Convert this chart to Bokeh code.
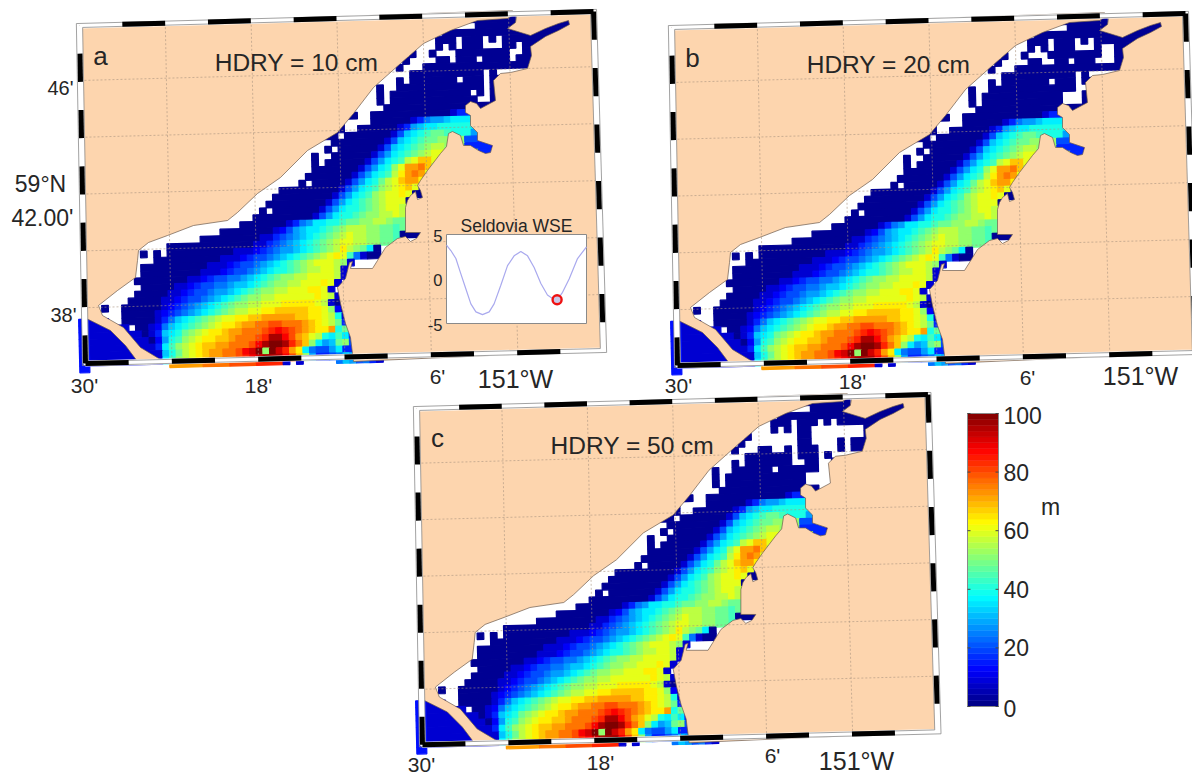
import re
import numpy as np
from bokeh.plotting import figure
from bokeh.models import Range1d
from bokeh.core.properties import value
from bokeh.embed import file_html
from bokeh.resources import INLINE

# Water depth (m), run-length coded per grid row: letter a..z = 0..100 m in 4 m steps
# (b = shallowest water, about 2 m), "_" = dry (white) cell, "." = no cell
DEPTH_ROWS = [
 "58. 7b 7. 2b", "55. 4_ 15b", "54. 20b", "53. 3b 1_ 3b 1_ 1b 1_ 9b",
 "51. 2_ 1b 1_ 1b 1_ 3b 3_ 2b 1_ 4b", "49. 1b 2_ 1b 3_ 8b 2_ 4b", "48. 1b 4_ 2b 1_ 3b 1_ 4b 1_ 3b",
 "47. 1b 3_ 17b", "46. 3_ 11b 1_ 1b 5_", "44. 3_ 1b 1_ 7b 1_ 3b 1_ 3b", "43. 1_ 1b 2_ 13b 1_ 1b",
 "42. 2_ 1b 1_ 12b 1_ 1b 1_ 2b", "41. 3_ 1b 1_ 13b 2_ 2b", "40. 5_ 18b", "39. 2b 2_ 12b 1c 4e",
 "38. 1b 4_ 6b 1c 1e 1g 2h 1i 5j", "37. 2b 2_ 6b 1c 1e 1h 1i 2j 5k 2j",
 "36. 2b 1_ 7b 1c 1f 1i 1j 1k 1l 2m 1l 3k 1h 1g", "36. 1_ 8b 1c 1f 1i 1j 1k 1l 2m 4n 2f 3e",
 "35. 1_ 1b 1_ 6b 1c 1f 1i 1j 1k 1l 1m 1n 2o 3n 4e 1d", "34. 1b 2_ 6b 1c 1f 1h 1j 1k 1l 1m 1n 1o 2p 1o 4n 3e",
 "33. 1_ 1b 1_ 6b 1c 1f 1h 1j 1k 1l 1o 1p 2r 1p 3n", "32. 2_ 7b 1c 1f 1h 1j 1k 1n 1p 2s 1t 1r 1n",
 "31. 2_ 7b 1c 1f 1h 1j 1k 1l 1o 1q 1s 1t 1s 1p 1c", "30. 2_ 1b 1_ 5b 1c 1f 1h 1j 1k 1m 1o 1p 1r 2s 1q 1d",
 "28. 1_ 9b 1c 1f 1h 1j 1k 1l 1n 1o 1p 1q 1r 1p 1c 1b", "27. 1_ 9b 1c 1f 1h 1j 1k 1l 1n 1o 2p 1q 1p 3b",
 "26. 1_ 9b 1c 1f 1h 1j 1k 1l 1m 1n 1o 3p 1b", "24. 2_ 1b 1_ 7b 1c 1f 1h 1j 2k 1l 1m 1n 1o 2p 1o",
 "23. 2_ 9b 1c 1f 1h 1j 2k 1l 1m 2n 2o 1p 1o", "21. 2_ 7b 1c 1e 1g 1h 2j 2k 1l 2m 2n 2o 1n 2m",
 "16. 4_ 8b 1c 1d 1f 1h 1i 2j 1k 1l 1m 1n 3o 2n 2m 1l 1m", "12. 5_ 9b 2c 1e 1f 1g 1h 1i 1j 1k 1l 1m 1n 1o 1p 2o 2n 2m 1l 3b",
 "9. 3_ 13b 2c 1e 1f 1g 1h 1i 1j 1k 1l 1m 1n 1o 2p 2o 2n 2m 1l 1_ 1_", "8. 1b 1_ 1b 1_ 10b 3c 1d 1e 1f 1g 2h 1i 1j 1k 1l 1m 1n 1o 1q 1o 1n 1m 1j 1b 2_",
 "8. 2_ 10b 3c 1d 1e 2f 1g 1h 1i 1j 1k 1l 1m 1n 1o 1p 1q 1p 1l 1g 1c 2b 1_", "7. 1_ 10b 3c 1d 1e 2f 1g 1h 1i 1j 1k 1l 1m 1n 1o 3p 1o 1n 1c 4_",
 "7. 1_ 9b 3c 1d 1e 2f 1g 1h 1i 1j 2k 1l 1m 1n 2o 2p 1o 1c", "6. 1_ 8b 2c 1d 1e 2f 2g 1h 1i 1j 1k 1l 1m 2n 2o 4p 1o 1c",
 "6. 2_ 5b 2c 1d 1e 2f 2g 1h 2i 1j 1k 1l 1m 2n 2o 3p 1q 1p 1c", "4. 3_ 5b 2c 1d 1e 2f 1g 2h 1i 1j 1k 1l 1m 2n 2o 3p 2q 1p 1c",
 "3. 3_ 5b 2c 1d 1e 2f 1g 1h 1i 1j 1k 1l 1m 2n 2o 6p 1q 1p 1o 1c", "2. 1b 2_ 6b 1c 1d 1e 1f 1g 1h 1i 1j 1k 1l 1m 2n 2o 3p 5q 1p 1o 1c 1b",
 "3. 2_ 5b 1c 1d 1e 1f 1g 1h 1i 1j 1k 1l 1m 1n 2o 2p 2q 5r 2q 1p 1n 1d 1b", "3c 2_ 5b 1c 1e 1g 1i 1j 1k 1l 1m 1n 1o 2p 2q 2r 5s 2r 2q 1p 1o 1k 1c",
 "6c 1_ 2b 1c 1d 1g 1i 1j 1k 1l 1m 1n 1o 1p 2q 1r 2s 2t 2u 3t 1s 1r 1q 1p 1o 1m 1e 1b", "8c 1b 1c 1e 1i 1j 1k 1m 1n 1o 1p 2q 1r 2s 2t 1t 1u 1v 1w 1v 1u 1t 1s 1r 2q 1s 1k 1m 1f",
 "9c 1b 1d 1h 1k 1l 1n 1o 1p 2q 2r 1s 2t 1t 1u 1v 2y 1w 1u 1s 1r 1p 1o 1k 1j 1l 1j 1e", "10c 1e 1j 1l 1n 1o 1p 1q 2r 2s 2t 1t 1u 1w 1y 2z 1y 1v 1t 1r 1n 1j 1h 1i 1m 1n 1f",
 "11c 1i 1k 1m 1o 1p 1q 1r 2s 2t 1u 1w 1x 1z 1n 1z 1x 1v 1s 1q 1j 1g 2f 1h 1j 1e 1e", "11c 1j 1l 1n 1o 1p 1q 1r 2s 2t 1u 1v 1w 1x 3y 1w 1u 1r 1n 1h 2e 1f 1g 1i 1h 1g 1f",
 "12. 5s 4t 4u 4v 1c 1. 1c 5. 1g 1i 1h 1f 1g 1e 1c",
]
WEST_DEPTH = [14, 14, 14, 14, 14, 14, 14, 14]   # basin west of the frame, rows 44..51

# Cells that are dry only at the larger HDRY values: (row, [columns])
EXTRA_DRY_B = [(4, [64, 65]), (5, [64, 65]), (6, [56, 63, 64, 65]), (10, [60, 61]), (11, [58, 59, 60]), (12, [58, 60])]
EXTRA_DRY_C = [(3, [56]), (4, [56, 59, 63, 64, 65, 66]), (5, [52, 53, 54, 55, 56, 59, 60, 61, 62, 63, 64, 65, 66]),
               (6, [52, 53, 54, 55, 56, 59, 60, 61, 62]), (7, [53, 54, 56, 60, 61, 62, 64]), (8, [56]),
               (9, [57, 60, 61]), (10, [53, 60, 61]), (11, [58, 59, 60, 61]), (12, [58, 59, 60, 61]), (13, [60, 61])]

# Coast outlines, panel a page coordinates
COAST_NW_X = [79,84,110,125,137,160,140,123,102,98,117,135,137,138,148,167,193,227,237,257,280,307,337,353,373,400,423,450,477,507,512,512]
COAST_NW_Y = [25,317,330,345,361,359,347,327,315,305,290,277,260,250,242,235,225,220,212,193,177,150,132,113,87,63,43,30,20,18,15,10]
COAST_SE_X = [517,515,507,517,530,545,558,568,569,558,545,530,531,527,510,500,493,495,480,476,470,465,465,470,470,477,477,492,490,485,478,470,463,460,452,448,446,440,427,420,417,420,422,417,415,410,407,405,405,420,416,410,405,397,385,377,372,350,352,349,345,337,340,345,350,353,603,593]
COAST_SE_Y = [11,22,28,31,35,28,23,20,24,30,36,46,55,68,72,73,80,100,108,103,101,105,112,115,125,132,140,145,152,153,150,145,145,135,131,133,146,153,170,180,185,190,197,199,191,195,200,207,232,232,238,241,236,238,247,260,268,268,261,262,278,287,303,323,337,361,350,11]

# Frame corners (panel a) and graticule
FRAME_X = [79, 593, 603, 85]
FRAME_Y = [25, 11, 350, 363]
LON_MIN = [24, 18, 12, 6, 0]
LAT_MIN = [46, 44, 42, 40, 38]

# Tide inset
WSE_T = [0,.031,.067,.102,.138,.174,.210,.257,.305,.340,.388,.436,.483,.531,.579,.626,.674,.721,.757,.793,.829,.876,.936,1.0]
WSE_M = [3.8,3.2,2.3,.6,-1.1,-2.8,-3.7,-4,-3.7,-2.8,-.7,1.5,2.6,3.1,2.6,1.3,-.5,-1.8,-2.2,-2.3,-1.5,0,2.3,3.6]
WSE_NOW_T, WSE_NOW_M = [.79], [-2.33]
WSE_TICKS = [5, 0, -5]

CBAR_TICKS = [0, 20, 40, 60, 80, 100]
CBAR_LEVELS = list(range(0, 100, 2))

PANELS = [("a", "HDRY = 10 cm", 0, 0, 1.0, []), ("b", "HDRY = 20 cm", 592, 2, 1.0, EXTRA_DRY_B),
          ("c", "HDRY = 50 cm", 337, 383, 0.995, EXTRA_DRY_C)]

FONT = value("Liberation Sans")
LAND = "#fdd5ae"
TXT = "#262626"


def jet(d):
    t = d / 100.0
    f = lambda k: int(255 * min(1, max(0, 1.5 - abs(4 * t - k))))
    return "#%02x%02x%02x" % (f(3), f(2), f(1))


def depth_of(ch):
    return 2 if ch == "b" else (ord(ch) - 97) * 4


def place(px, py, pan):
    dx, dy, s = pan[2], pan[3], pan[4]
    px, py = np.asarray(px, float), np.asarray(py, float)
    return 79 + (px - 79) * s + dx, 25 + (py - 25) * s + dy


def bil(fu, fv):
    xt = FRAME_X[0] + (FRAME_X[1] - FRAME_X[0]) * fu
    yt = FRAME_Y[0] + (FRAME_Y[1] - FRAME_Y[0]) * fu
    xb = FRAME_X[3] + (FRAME_X[2] - FRAME_X[3]) * fu
    yb = FRAME_Y[3] + (FRAME_Y[2] - FRAME_Y[3]) * fu
    return xt + (xb - xt) * fv, yt + (yb - yt) * fv


def cell_xy(j, i):
    c = 6.67
    u, v = 4 + j * c, 3.3 + i * c
    return 77 + u + 0.024 * v, 22 - 0.025 * u + v


p = figure(width=1192, height=775, x_range=Range1d(0, 1192), y_range=Range1d(775, 0),
           output_backend="svg", toolbar_location=None, min_border=0)
p.axis.visible = False
p.grid.visible = False
p.outline_line_color = None
p.background_fill_color = "white"


def label(x, y, s, size, align="center"):
    p.text([x], [y], text=[s], text_font=FONT, text_font_size=f"{size}px", text_color=TXT,
           text_align=align, text_baseline="middle")


for pan in PANELS:
    dry = {r: cs for r, cs in pan[5]}
    xs, ys, cols = [], [], []
    for i, row in enumerate(DEPTH_ROWS):
        cells = []
        for n, ch in re.findall(r"(\d+)(\S)", row):
            cells += [ch] * int(n)
        for c in dry.get(i, []):
            if c < len(cells) and cells[c] != ".":
                cells[c] = "_"
        h = 0.55 if i == len(DEPTH_ROWS) - 1 else 1
        j = 0
        while j < len(cells):
            k = j
            while k < len(cells) and cells[k] == cells[j]:
                k += 1
            ch = cells[j]
            if ch not in "._":
                x0, y0 = cell_xy(j, i); x1, y1 = cell_xy(k, i)
                x2, y2 = cell_xy(k, i + h); x3, y3 = cell_xy(j, i + h)
                a, b = place([x0, x1, x2, x3], [y0, y1, y2, y3], pan)
                xs.append(a.tolist()); ys.append(b.tolist()); cols.append(jet(depth_of(ch)))
            j = k
    for k, d in enumerate(WEST_DEPTH):
        i = 44 + k
        x0, y0 = cell_xy(-1.5, i); x1, y1 = cell_xy(0, i); x2, y2 = cell_xy(0, i + 1); x3, y3 = cell_xy(-1.5, i + 1)
        a, b = place([x0, x1, x2, x3], [y0, y1, y2, y3], pan)
        xs.append(a.tolist()); ys.append(b.tolist()); cols.append(jet(d))
    p.patches(xs, ys, fill_color=cols, line_color=cols, line_width=1.2)

    for cx, cy in ((COAST_NW_X, COAST_NW_Y), (COAST_SE_X, COAST_SE_Y)):
        a, b = place(cx, cy, pan)
        p.patch(a, b, fill_color=LAND, line_color="#6b5a4e", line_width=0.7)

    # graticule
    gx, gy = [], []
    for m in LON_MIN:
        a, b = bil((30 - m) * 14.3 / 514.0, np.array([0.0, 1.0]))
        a, b = place(a, b, pan); gx.append(a.tolist()); gy.append(b.tolist())
    for m in LAT_MIN:
        fv = (55 + (46 - m) * 28.4) / 338.0
        a, b = bil(np.array([0.0, 1.0]), fv)
        a, b = place(a, b, pan); gx.append(a.tolist()); gy.append(b.tolist())
    p.multi_line(gx, gy, line_color="#a8937e", line_width=1, line_dash="2 2", line_alpha=0.6)

    # frame
    fx, fy = place(FRAME_X + FRAME_X[:1], FRAME_Y + FRAME_Y[:1], pan)
    p.line(fx, fy, line_color="white", line_width=6)
    for off in (1.012, 0.988):
        cxm, cym = fx[:4].mean(), fy[:4].mean()
        ox, oy = cxm + (fx - cxm) * off, cym + (fy - cym) * off
        p.line(ox, oy, line_color="#8a8a8a", line_width=0.8)
    bx, by = [], []
    sides = [(0, 1, 1, 12), (0, 3, 1, 12), (3, 2, 0, 12), (1, 2, 0, 12)]
    for s0, s1, first, n in sides:
        for k in range(first, n, 2):
            f0, f1 = k / n, (k + 1) / n
            bx.append([fx[s0] + (fx[s1] - fx[s0]) * f0, fx[s0] + (fx[s1] - fx[s0]) * f1])
            by.append([fy[s0] + (fy[s1] - fy[s0]) * f0, fy[s0] + (fy[s1] - fy[s0]) * f1])
    p.multi_line(bx, by, line_color="black", line_width=5)

    tx, ty = place([100, 296], [55, 62], pan)
    label(tx[0], ty[0], pan[0], 26)
    label(tx[1], ty[1], pan[1], 24.5)

# inset in panel a
IX0, IX1, IY0, IY1 = 446, 586, 234, 323
p.quad(left=[IX0], right=[IX1], top=[IY0], bottom=[IY1], fill_color="white", line_color="#8a8a8a", line_width=1)
ix = IX0 + np.array(WSE_T) * (IX1 - IX0)
iy = (IY0 + IY1) / 2 - np.array(WSE_M) * (IY1 - IY0) / 10
p.line(ix, iy, line_color="#a9a9ee", line_width=1.2)
p.scatter(IX0 + np.array(WSE_NOW_T) * (IX1 - IX0), (IY0 + IY1) / 2 - np.array(WSE_NOW_M) * (IY1 - IY0) / 10,
          size=9, fill_color="#c8c8e8", line_color="#ee1111", line_width=2.4)
label(516, 225, "Seldovia WSE", 17.5)
for t in WSE_TICKS:
    label(442, (IY0 + IY1) / 2 - t * (IY1 - IY0) / 10 + 1, str(t), 16.5, "right")

# colour bar
CX0, CX1, CY0, CY1 = 967, 998, 706, 413
yy = lambda d: CY0 + (CY1 - CY0) * np.asarray(d, float) / 100
p.quad(left=CX0, right=CX1, bottom=yy(CBAR_LEVELS), top=yy(np.array(CBAR_LEVELS) + 2),
       fill_color=[jet(d + 1) for d in CBAR_LEVELS], line_color=[jet(d + 1) for d in CBAR_LEVELS], line_width=0.5)
p.quad(left=[CX0], right=[CX1], bottom=[CY0], top=[CY1], fill_color=None, line_color="#8a8a8a", line_width=1)
for t in CBAR_TICKS:
    y = float(yy(t))
    p.multi_line([[CX0, CX0 + 3], [CX1 - 3, CX1]], [[y, y], [y, y]], line_color="#444444", line_width=1)
    label(1003, y + (2 if t == 0 else 0) + (2 if t == 100 else 0), str(t), 23, "left")
label(1050, 506, "m", 23)

# map tick labels
for x, y, s, z in [(60, 87, "46'", 20), (63, 314, "38'", 20), (40, 183, "59°N", 23), (42, 217, "42.00'", 23),
                   (84, 385, "30'", 21), (258, 385, "18'", 21), (437, 376, "6'", 21), (515, 378, "151°W", 25),
                   (678, 385, "30'", 21), (852, 381, "18'", 21), (1027, 377, "6'", 21), (1140, 375, "151°W", 25),
                   (421, 764, "30'", 21), (600, 762, "18'", 21), (772, 755, "6'", 21), (856, 760, "151°W", 25)]:
    label(x, y, s, z)

open("out.html", "w").write(file_html(p, INLINE))
